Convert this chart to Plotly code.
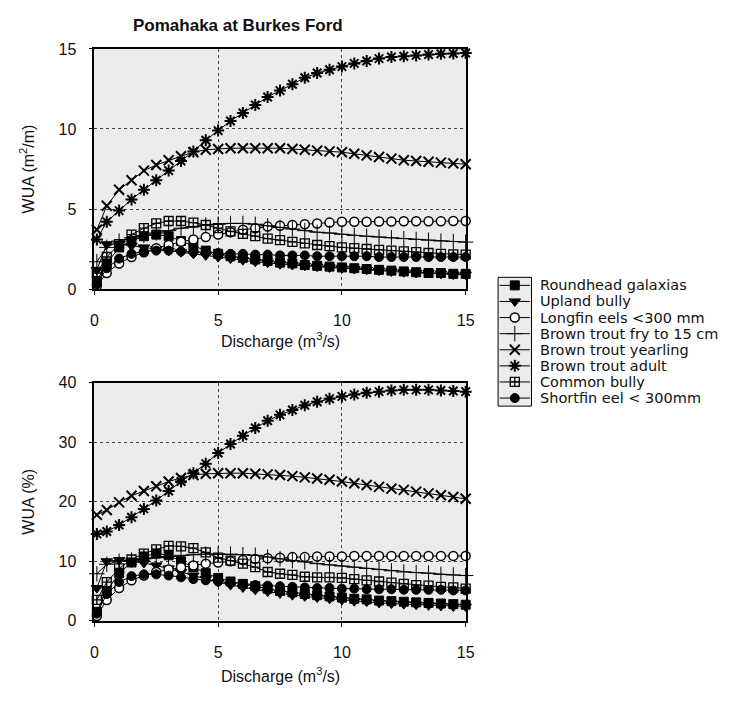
import plotly.graph_objects as go

# Discharge (m3/s) at which habitat was modelled
discharge = [0.1, 0.5, 1.0, 1.5, 2.0, 2.5, 3.0, 3.5, 4.0, 4.5, 5.0, 5.5, 6.0, 6.5, 7.0, 7.5,
             8.0, 8.5, 9.0, 9.5, 10.0, 10.5, 11.0, 11.5, 12.0, 12.5, 13.0, 13.5, 14.0, 14.5, 15.0]

species = ["Roundhead galaxias", "Upland bully", "Longfin eels <300 mm",
           "Brown trout fry to 15 cm", "Brown trout yearling", "Brown trout adult",
           "Common bully", "Shortfin eel < 300mm"]

# Weighted usable area, m2 per metre of river
wua_roundhead = [0.5, 1.6, 2.6, 3.0, 3.3, 3.4, 3.3, 3.0, 2.7, 2.4, 2.2, 2.05, 1.95, 1.85, 1.75, 1.65,
                 1.6, 1.5, 1.45, 1.4, 1.35, 1.3, 1.25, 1.2, 1.15, 1.1, 1.05, 1.0, 1.0, 0.95, 0.95]
wua_upland = [1.2, 2.8, 2.8, 2.7, 2.6, 2.5, 2.4, 2.3, 2.2, 2.1, 2.0, 1.9, 1.8, 1.7, 1.65, 1.55,
              1.5, 1.45, 1.4, 1.35, 1.3, 1.25, 1.2, 1.15, 1.1, 1.05, 1.0, 1.0, 0.95, 0.9, 0.9]
wua_longfin = [0.2, 1.0, 1.6, 2.0, 2.3, 2.55, 2.75, 2.95, 3.1, 3.25, 3.4, 3.55, 3.7, 3.8, 3.9, 3.95,
               4.0, 4.05, 4.1, 4.15, 4.2, 4.2, 4.2, 4.22, 4.22, 4.23, 4.23, 4.24, 4.24, 4.25, 4.25]
wua_fry = [1.7, 2.6, 3.0, 3.2, 3.35, 3.5, 3.65, 3.8, 3.9, 4.0, 4.05, 4.1, 4.1, 4.05, 3.95, 3.85,
           3.75, 3.65, 3.55, 3.5, 3.42, 3.35, 3.3, 3.25, 3.2, 3.15, 3.1, 3.05, 3.0, 2.97, 2.93]
wua_yearling = [3.7, 5.2, 6.2, 6.8, 7.4, 7.75, 8.05, 8.3, 8.55, 8.7, 8.75, 8.8, 8.8, 8.8, 8.8, 8.8,
                8.75, 8.7, 8.65, 8.6, 8.55, 8.45, 8.35, 8.25, 8.15, 8.05, 8.0, 7.95, 7.9, 7.85, 7.8]
wua_adult = [3.1, 4.2, 4.9, 5.6, 6.2, 6.8, 7.4, 8.0, 8.6, 9.3, 9.9, 10.5, 11.0, 11.5, 12.0, 12.4,
             12.8, 13.2, 13.5, 13.7, 13.9, 14.1, 14.25, 14.4, 14.5, 14.55, 14.6, 14.65, 14.7, 14.72, 14.75]
wua_common = [1.0, 2.0, 2.8, 3.4, 3.8, 4.1, 4.25, 4.25, 4.15, 4.0, 3.8, 3.6, 3.45, 3.3, 3.15, 3.05,
              2.95, 2.85, 2.75, 2.68, 2.6, 2.55, 2.5, 2.45, 2.4, 2.35, 2.3, 2.25, 2.2, 2.17, 2.15]
wua_shortfin = [0.3, 1.3, 1.9, 2.2, 2.35, 2.4, 2.4, 2.35, 2.3, 2.3, 2.25, 2.2, 2.2, 2.15, 2.15, 2.1,
                2.1, 2.1, 2.05, 2.05, 2.05, 2.05, 2.05, 2.0, 2.0, 2.0, 2.0, 2.0, 2.0, 2.0, 2.0]

# Weighted usable area as a percentage of channel area
pct_roundhead = [1.5, 5.0, 8.0, 9.8, 10.8, 11.3, 11.0, 10.0, 9.0, 8.0, 7.2, 6.6, 6.2, 5.8, 5.4, 5.0,
                 4.8, 4.5, 4.3, 4.1, 3.9, 3.7, 3.6, 3.4, 3.3, 3.2, 3.1, 3.0, 2.9, 2.8, 2.7]
pct_upland = [5.5, 10.0, 10.2, 10.0, 9.7, 9.3, 8.8, 8.2, 7.6, 7.0, 6.5, 6.0, 5.6, 5.2, 4.9, 4.6,
              4.3, 4.1, 3.9, 3.7, 3.5, 3.3, 3.2, 3.0, 2.9, 2.8, 2.7, 2.6, 2.5, 2.4, 2.4]
pct_longfin = [0.8, 3.5, 5.5, 6.8, 7.6, 8.2, 8.6, 9.0, 9.3, 9.6, 9.8, 10.0, 10.2, 10.4, 10.5, 10.6,
               10.7, 10.7, 10.8, 10.8, 10.8, 10.9, 10.9, 10.9, 10.9, 10.9, 10.9, 10.9, 10.9, 10.9, 10.9]
pct_fry = [7.9, 9.5, 10.0, 10.2, 10.4, 10.6, 10.8, 11.0, 11.1, 11.2, 11.2, 11.2, 11.1, 11.0, 10.7, 10.4,
           10.1, 9.9, 9.6, 9.4, 9.2, 9.0, 8.8, 8.6, 8.4, 8.2, 8.1, 8.0, 7.8, 7.7, 7.6]
pct_yearling = [17.8, 18.6, 19.9, 21.0, 21.8, 22.6, 23.4, 24.0, 24.5, 24.7, 24.8, 24.8, 24.8, 24.7, 24.6, 24.5,
                24.3, 24.1, 23.9, 23.7, 23.4, 23.1, 22.8, 22.5, 22.2, 22.0, 21.7, 21.4, 21.1, 20.8, 20.5]
pct_adult = [14.6, 15.0, 16.1, 17.4, 18.8, 20.2, 21.8, 23.4, 24.8, 26.4, 28.2, 29.7, 31.1, 32.4, 33.6, 34.6,
             35.4, 36.2, 36.8, 37.3, 37.7, 38.0, 38.3, 38.5, 38.7, 38.8, 38.8, 38.8, 38.7, 38.6, 38.5]
pct_common = [3.5, 6.5, 8.8, 10.3, 11.3, 12.0, 12.6, 12.5, 12.2, 11.5, 10.6, 10.1, 9.6, 9.0, 8.2, 7.9,
              7.7, 7.4, 7.3, 7.3, 7.2, 7.0, 6.8, 6.6, 6.4, 6.2, 6.0, 5.9, 5.7, 5.6, 5.4]
pct_shortfin = [1.2, 4.5, 6.5, 7.5, 7.8, 7.8, 7.6, 7.3, 7.0, 6.8, 6.6, 6.4, 6.2, 6.0, 5.9, 5.8,
                5.7, 5.6, 5.5, 5.5, 5.4, 5.4, 5.3, 5.3, 5.3, 5.2, 5.2, 5.2, 5.2, 5.1, 5.1]

wua_series = [wua_roundhead, wua_upland, wua_longfin, wua_fry,
              wua_yearling, wua_adult, wua_common, wua_shortfin]
pct_series = [pct_roundhead, pct_upland, pct_longfin, pct_fry,
              pct_yearling, pct_adult, pct_common, pct_shortfin]

# Marker styling for each species
marker_styles = [
    dict(symbol="square", size=9, color="black", line=dict(color="black", width=1)),
    dict(symbol="triangle-down", size=10, color="black", line=dict(color="black", width=1)),
    dict(symbol="circle", size=9, color="white", line=dict(color="black", width=1.5)),
    dict(symbol="cross-thin-open", size=11, color="black", line=dict(color="black", width=1)),
    dict(symbol="x-thin-open", size=10, color="black", line=dict(color="black", width=2)),
    dict(symbol="asterisk-open", size=10, color="black", line=dict(color="black", width=2)),
    dict(symbol="square-cross-open", size=9, color="black", line=dict(color="black", width=1.3)),
    dict(symbol="circle", size=9, color="black", line=dict(color="black", width=1)),
]

W, H = 734, 702
FONT = "Liberation Sans, Arial, sans-serif"
KEY_FONT = "DejaVu Sans, Verdana, sans-serif"


def px_x(p):
    return p / W


def px_y(p):
    return 1 - p / H


fig = go.Figure()

for name, top, bottom, mk in zip(species, wua_series, pct_series, marker_styles):
    fig.add_trace(go.Scatter(x=discharge, y=top, mode="lines+markers", name=name,
                             line=dict(color="black", width=1), marker=mk,
                             cliponaxis=False, showlegend=False, xaxis="x", yaxis="y"))
    fig.add_trace(go.Scatter(x=discharge, y=bottom, mode="lines+markers", name=name,
                             line=dict(color="black", width=1), marker=mk,
                             cliponaxis=False, showlegend=False, xaxis="x2", yaxis="y2"))

# Key: one sample line per species, stacked in its own small axis
for i, (name, mk) in enumerate(zip(species, marker_styles)):
    fig.add_trace(go.Scatter(x=[0, 0.5, 1], y=[i + 1] * 3, mode="lines",
                             line=dict(color="black", width=1), showlegend=False,
                             hoverinfo="skip", xaxis="x3", yaxis="y3", cliponaxis=False))
    fig.add_trace(go.Scatter(x=[0.5], y=[i + 1], mode="markers", marker=mk,
                             showlegend=False, hoverinfo="skip", xaxis="x3", yaxis="y3",
                             cliponaxis=False))

tick_font = dict(family=FONT, size=16, color="#111")
title_font = dict(family=FONT, size=16, color="#111")

axis_common = dict(showline=True, linecolor="black", linewidth=1.5, mirror=True,
                   ticks="outside", ticklen=4, tickcolor="black",
                   showgrid=True, gridcolor="#444", griddash="dot", gridwidth=1,
                   zeroline=False, tickfont=tick_font, title_font=title_font)

plot_x = [px_x(92), px_x(470)]

fig.update_layout(
    width=W, height=H,
    margin=dict(l=0, r=0, t=0, b=0),
    paper_bgcolor="white",
    plot_bgcolor="#ebebeb",
    font=dict(family=FONT, color="#111"),
    xaxis=dict(domain=plot_x, range=[0, 15], dtick=5, anchor="y",
               ticklabelstandoff=12, **axis_common),
    yaxis=dict(domain=[px_y(288), px_y(42)], range=[0, 15], dtick=5, anchor="x",
               ticklabelstandoff=9,
               title=dict(text="WUA (m<sup>2</sup>/m)", standoff=20), **axis_common),
    xaxis2=dict(domain=plot_x, range=[0, 15], dtick=5, anchor="y2",
                ticklabelstandoff=12, **axis_common),
    yaxis2=dict(domain=[px_y(628), px_y(384)], range=[0, 40], dtick=10, anchor="x2",
                ticklabelstandoff=9,
                title=dict(text="WUA (%)", standoff=20), **axis_common),
    xaxis3=dict(domain=[px_x(503), px_x(537)], range=[-0.05, 1.05], visible=False,
                anchor="y3", fixedrange=True),
    yaxis3=dict(domain=[px_y(408), px_y(276)], range=[8.5, 0.5], visible=False,
                anchor="x3", fixedrange=True),
    showlegend=False,
)

# Discharge axis titles
for ypix in (340, 684):
    fig.add_annotation(xref="paper", yref="paper", x=px_x(281), y=px_y(ypix),
                       text="Discharge (m<sup>3</sup>/s)", showarrow=False,
                       xanchor="center", yanchor="middle", font=title_font)

# Frame around the key symbols
fig.add_shape(type="rect", xref="x3 domain", yref="y3 domain", x0=0, x1=1, y0=0, y1=1,
              line=dict(color="black", width=1), fillcolor="#ebebeb", layer="below")

for i, name in enumerate(species):
    fig.add_annotation(xref="x3 domain", yref="y3", x=1, y=i + 1, xshift=7,
                       text=name, showarrow=False, xanchor="left", yanchor="middle",
                       font=dict(family=KEY_FONT, size=14.5, color="#111"))

fig.add_annotation(xref="paper", yref="paper", x=px_x(238), y=px_y(18),
                   text="<b>Pomahaka at Burkes Ford</b>", showarrow=False,
                   xanchor="center", yanchor="middle",
                   font=dict(family=FONT, size=17, color="#111"))

fig.write_html("out.html")
